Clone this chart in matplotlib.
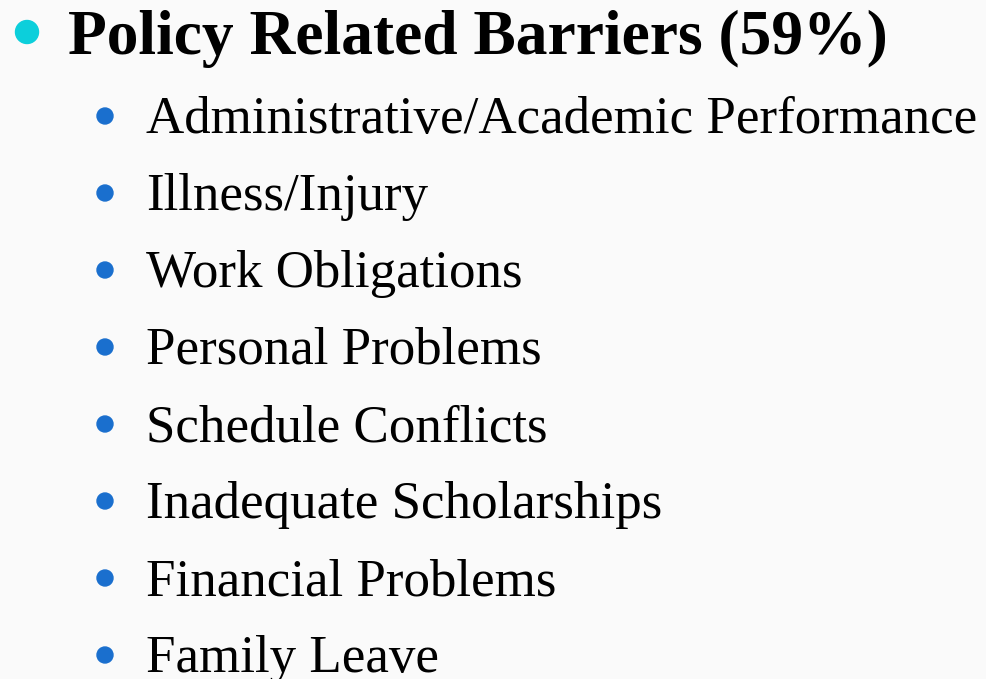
import matplotlib.pyplot as plt
from matplotlib.patches import Circle

# slide content
title = "Policy Related Barriers (59%)"
items = [
    "Administrative/Academic Performance",
    "Illness/Injury",
    "Work Obligations",
    "Personal Problems",
    "Schedule Conflicts",
    "Inadequate Scholarships",
    "Financial Problems",
    "Family Leave",
]

W, H = 986, 679
fig = plt.figure(figsize=(W / 100, H / 100), dpi=100)
fig.patch.set_facecolor('#fafafa')
ax = fig.add_axes([0, 0, 1, 1])
ax.set_xlim(0, W)
ax.set_ylim(H, 0)
ax.axis('off')

# title line
ax.add_patch(Circle((27, 32), 11.5, color='#0ccfdb'))
ax.text(68, 54, title, fontsize=45.7, fontweight='bold', family='Liberation Serif',
        va='baseline', ha='left', color='black')

# sub bullets
base = 133
step = 77
for i, item in enumerate(items):
    y = base + step * i
    ax.add_patch(Circle((105, y - 17), 8, color='#1a6fce'))
    ax.text(146, y, item, fontsize=38.2, family='Liberation Serif',
            va='baseline', ha='left', color='black')

fig.savefig('out.png', dpi=100, facecolor=fig.get_facecolor())
